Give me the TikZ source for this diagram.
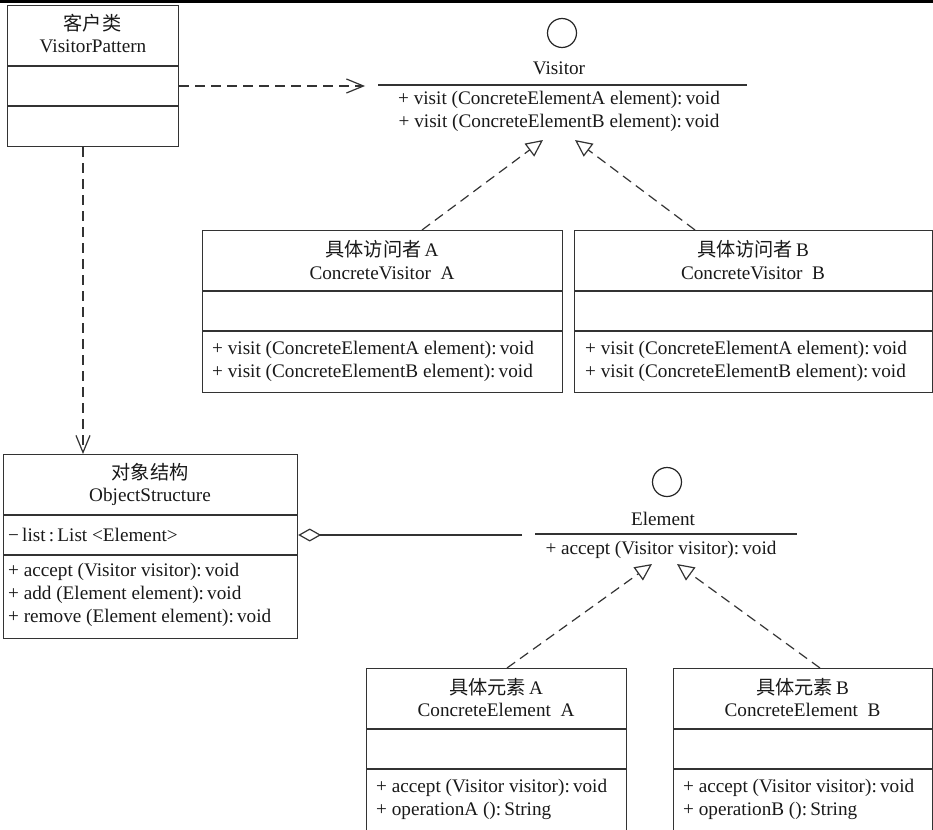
\documentclass[tikz,border=0pt]{standalone}
\usepackage{fontspec}
\setmainfont{Liberation Serif}
\newfontfamily\cjk{Noto Sans CJK SC}
\usetikzlibrary{arrows.meta}
\begin{document}
\begin{tikzpicture}[x=1pt,y=-1pt,
  every node/.style={font=\fontsize{19.2}{23}\selectfont, text=black!90},
  cls/.style={draw=black!80, line width=1.2pt, anchor=north west, inner sep=0pt},
  txt/.style={inner sep=0pt, text height=13pt, text depth=4pt},
  ltxt/.style={txt, anchor=west},
  divider/.style={draw=black!80, line width=1.2pt},
  iface/.style={draw=black!85, line width=1.2pt, circle, minimum size=29pt, inner sep=0pt},
  depline/.style={draw=black!80, line width=1.2pt, dash pattern=on 10pt off 6pt, -{Straight Barb[length=17pt,width=14pt,line width=1.2pt]}},
  realline/.style={draw=black!80, line width=1.2pt, dash pattern=on 10pt off 6pt, -{Triangle[open,length=17pt,width=16pt,line width=1.2pt]}},
  aggline/.style={draw=black!80, line width=1.2pt, -{Diamond[open,length=23pt,width=13pt,line width=1.2pt]}}
]
\clip (0,0) rectangle (933,829);
\fill[white] (0,0) rectangle (933,829);
\fill[black] (0,0) rectangle (933,3);

% ---- VisitorPattern
\node[cls, minimum width=171pt, minimum height=141pt] (vp) at (7,5) {};
\draw[divider] (vp.west |- 0,66) -- (vp.east |- 0,66);
\draw[divider] (vp.west |- 0,106) -- (vp.east |- 0,106);
\node[txt] (vpT1) at (92.5,26) {\cjk 客户类};
\node[txt] (vpT2) at (93,48) {VisitorPattern};

% ---- Visitor interface
\node[iface] (visC) at (562,33) {};
\node[txt] (visName) at (559,70) {Visitor};
\coordinate (visL) at (378,85);
\coordinate (visR) at (747,85);
\draw[divider] (visL) -- (visR);
\node[txt] (visM1) at (559,100) {+ visit (ConcreteElementA element):\,void};
\node[txt] (visM2) at (559,123) {+ visit (ConcreteElementB element):\,void};

% ---- ConcreteVisitor A
\node[cls, minimum width=360pt, minimum height=162pt] (cva) at (202,230) {};
\draw[divider] (cva.west |- 0,291) -- (cva.east |- 0,291);
\draw[divider] (cva.west |- 0,331) -- (cva.east |- 0,331);
\node[txt] (cvaT1) at (382,252) {{\cjk 具体访问者}\,A};
\node[txt] (cvaT2) at (382,275) {ConcreteVisitor\ \ A};
\node[ltxt] (cvaM1) at (212,350) {+ visit (ConcreteElementA element):\,void};
\node[ltxt] (cvaM2) at (212,373) {+ visit (ConcreteElementB element):\,void};

% ---- ConcreteVisitor B
\node[cls, minimum width=358pt, minimum height=162pt] (cvb) at (574,230) {};
\draw[divider] (cvb.west |- 0,291) -- (cvb.east |- 0,291);
\draw[divider] (cvb.west |- 0,331) -- (cvb.east |- 0,331);
\node[txt] (cvbT1) at (753,252) {{\cjk 具体访问者}\,B};
\node[txt] (cvbT2) at (753,275) {ConcreteVisitor\ \ B};
\node[ltxt] (cvbM1) at (585,350) {+ visit (ConcreteElementA element):\,void};
\node[ltxt] (cvbM2) at (585,373) {+ visit (ConcreteElementB element):\,void};

% ---- ObjectStructure
\node[cls, minimum width=294pt, minimum height=184pt] (os) at (3,454) {};
\draw[divider] (os.west |- 0,515) -- (os.east |- 0,515);
\draw[divider] (os.west |- 0,555) -- (os.east |- 0,555);
\node[txt] (osT1) at (150,475) {\cjk 对象结构};
\node[txt] (osT2) at (150,497) {ObjectStructure};
\node[ltxt] (osA1) at (8,537) {−\,list\,:\,List <Element>};
\node[ltxt] (osM1) at (8,572) {+ accept (Visitor visitor):\,void};
\node[ltxt] (osM2) at (8,595) {+ add (Element element):\,void};
\node[ltxt] (osM3) at (8,618) {+ remove (Element element):\,void};

% ---- Element interface
\node[iface] (elC) at (667,482) {};
\node[txt] (elName) at (663,521) {Element};
\coordinate (elL) at (535,534);
\coordinate (elR) at (797,534);
\draw[divider] (elL) -- (elR);
\node[txt] (elM1) at (661,550) {+ accept (Visitor visitor):\,void};

% ---- ConcreteElement A
\node[cls, minimum width=260pt, minimum height=200pt] (cea) at (366,668) {};
\draw[divider] (cea.west |- 0,729) -- (cea.east |- 0,729);
\draw[divider] (cea.west |- 0,769) -- (cea.east |- 0,769);
\node[txt] (ceaT1) at (496,690) {{\cjk 具体元素}\,A};
\node[txt] (ceaT2) at (496,712) {ConcreteElement\ \ A};
\node[ltxt] (ceaM1) at (376,788) {+ accept (Visitor visitor):\,void};
\node[ltxt] (ceaM2) at (376,811) {+ operationA ():\,String};

% ---- ConcreteElement B
\node[cls, minimum width=259pt, minimum height=200pt] (ceb) at (673,668) {};
\draw[divider] (ceb.west |- 0,729) -- (ceb.east |- 0,729);
\draw[divider] (ceb.west |- 0,769) -- (ceb.east |- 0,769);
\node[txt] (cebT1) at (802.5,690) {{\cjk 具体元素}\,B};
\node[txt] (cebT2) at (802.5,712) {ConcreteElement\ \ B};
\node[ltxt] (cebM1) at (683,788) {+ accept (Visitor visitor):\,void};
\node[ltxt] (cebM2) at (683,811) {+ operationB ():\,String};

% ---- connectors
\coordinate (visDepTip) at (365,86);
\draw[depline] (vp.east |- visDepTip) -- (visDepTip);
\draw[depline] (vp.south -| 83,0) -- (os.north -| 83,0);

\coordinate (cvaStart) at (422,230);
\coordinate (visTipA) at (543,140);
\coordinate (cvbStart) at (695,230);
\coordinate (visTipB) at (575,140);
\draw[realline] (cvaStart) -- (visTipA);
\draw[realline] (cvbStart) -- (visTipB);

\coordinate (ceaStart) at (507,668);
\coordinate (elTipA) at (652,564);
\coordinate (cebStart) at (820,668);
\coordinate (elTipB) at (677,564);
\draw[realline] (ceaStart) -- (elTipA);
\draw[realline] (cebStart) -- (elTipB);

\coordinate (aggEnd) at (522,535);
\draw[aggline] (aggEnd) -- (aggEnd -| os.east);
\end{tikzpicture}
\end{document}
